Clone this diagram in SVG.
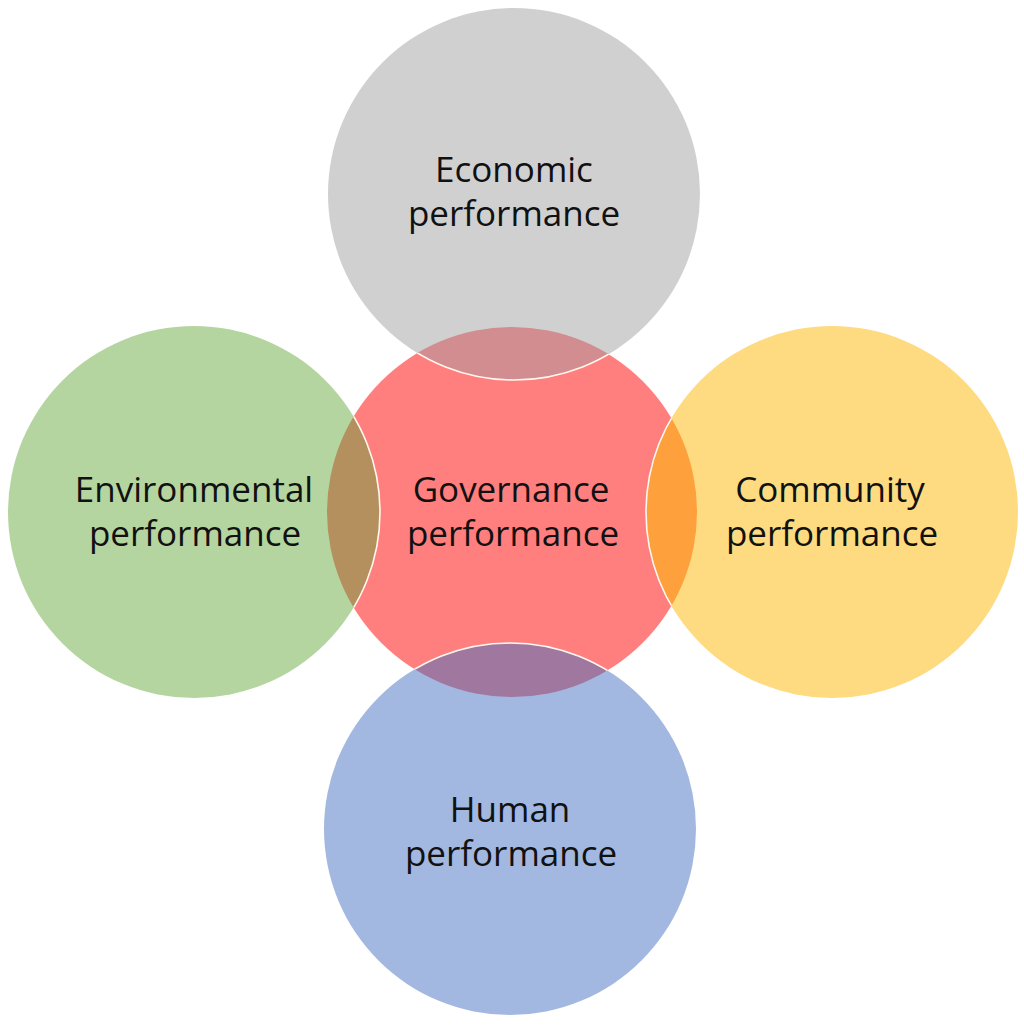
<svg xmlns="http://www.w3.org/2000/svg" width="1024" height="1028" viewBox="0 0 1024 1028">
<style>
.lbl{font-family:"Open Sans","Noto Sans","Liberation Sans",sans-serif;font-size:35px;fill:#111;text-anchor:middle}
.edge{fill:none;stroke:#fff8ee;stroke-width:1.6}
</style>
<defs>
<clipPath id="clipRed"><circle cx="512" cy="512" r="185"/></clipPath>
</defs>
<rect width="1024" height="1028" fill="#ffffff"/>
<g id="governance">
<circle cx="512" cy="512" r="185" fill="#ff7f7f"/>
</g>
<g id="economic">
<circle cx="514" cy="194" r="186" fill="#d0d0d0"/>
<circle cx="514" cy="194" r="186" fill="#d18d90" clip-path="url(#clipRed)"/>
<circle class="edge" cx="514" cy="194" r="186" clip-path="url(#clipRed)"/>
<text class="lbl" x="514" y="182">Economic</text>
<text class="lbl" x="514" y="226">performance</text>
</g>
<g id="environmental">
<circle cx="194" cy="512" r="186" fill="#b5d5a0"/>
<circle cx="194" cy="512" r="186" fill="#b4905f" clip-path="url(#clipRed)"/>
<circle class="edge" cx="194" cy="512" r="186" clip-path="url(#clipRed)"/>
<text class="lbl" x="194" y="502">Environmental</text>
<text class="lbl" x="195" y="546">performance</text>
</g>
<g id="community">
<circle cx="832" cy="512" r="186" fill="#fedb80"/>
<circle cx="832" cy="512" r="186" fill="#fea03c" clip-path="url(#clipRed)"/>
<circle class="edge" cx="832" cy="512" r="186" clip-path="url(#clipRed)"/>
<text class="lbl" x="830" y="502">Community</text>
<text class="lbl" x="832" y="546">performance</text>
</g>
<g id="human">
<circle cx="510" cy="829" r="186" fill="#a2b8e0"/>
<circle cx="510" cy="829" r="186" fill="#a0789f" clip-path="url(#clipRed)"/>
<circle class="edge" cx="510" cy="829" r="186" clip-path="url(#clipRed)"/>
<text class="lbl" x="510" y="822">Human</text>
<text class="lbl" x="511" y="866">performance</text>
</g>
<g id="governance-label">
<text class="lbl" x="511" y="502">Governance</text>
<text class="lbl" x="513" y="546">performance</text>
</g>
<g id="connectors"></g>
</svg>
